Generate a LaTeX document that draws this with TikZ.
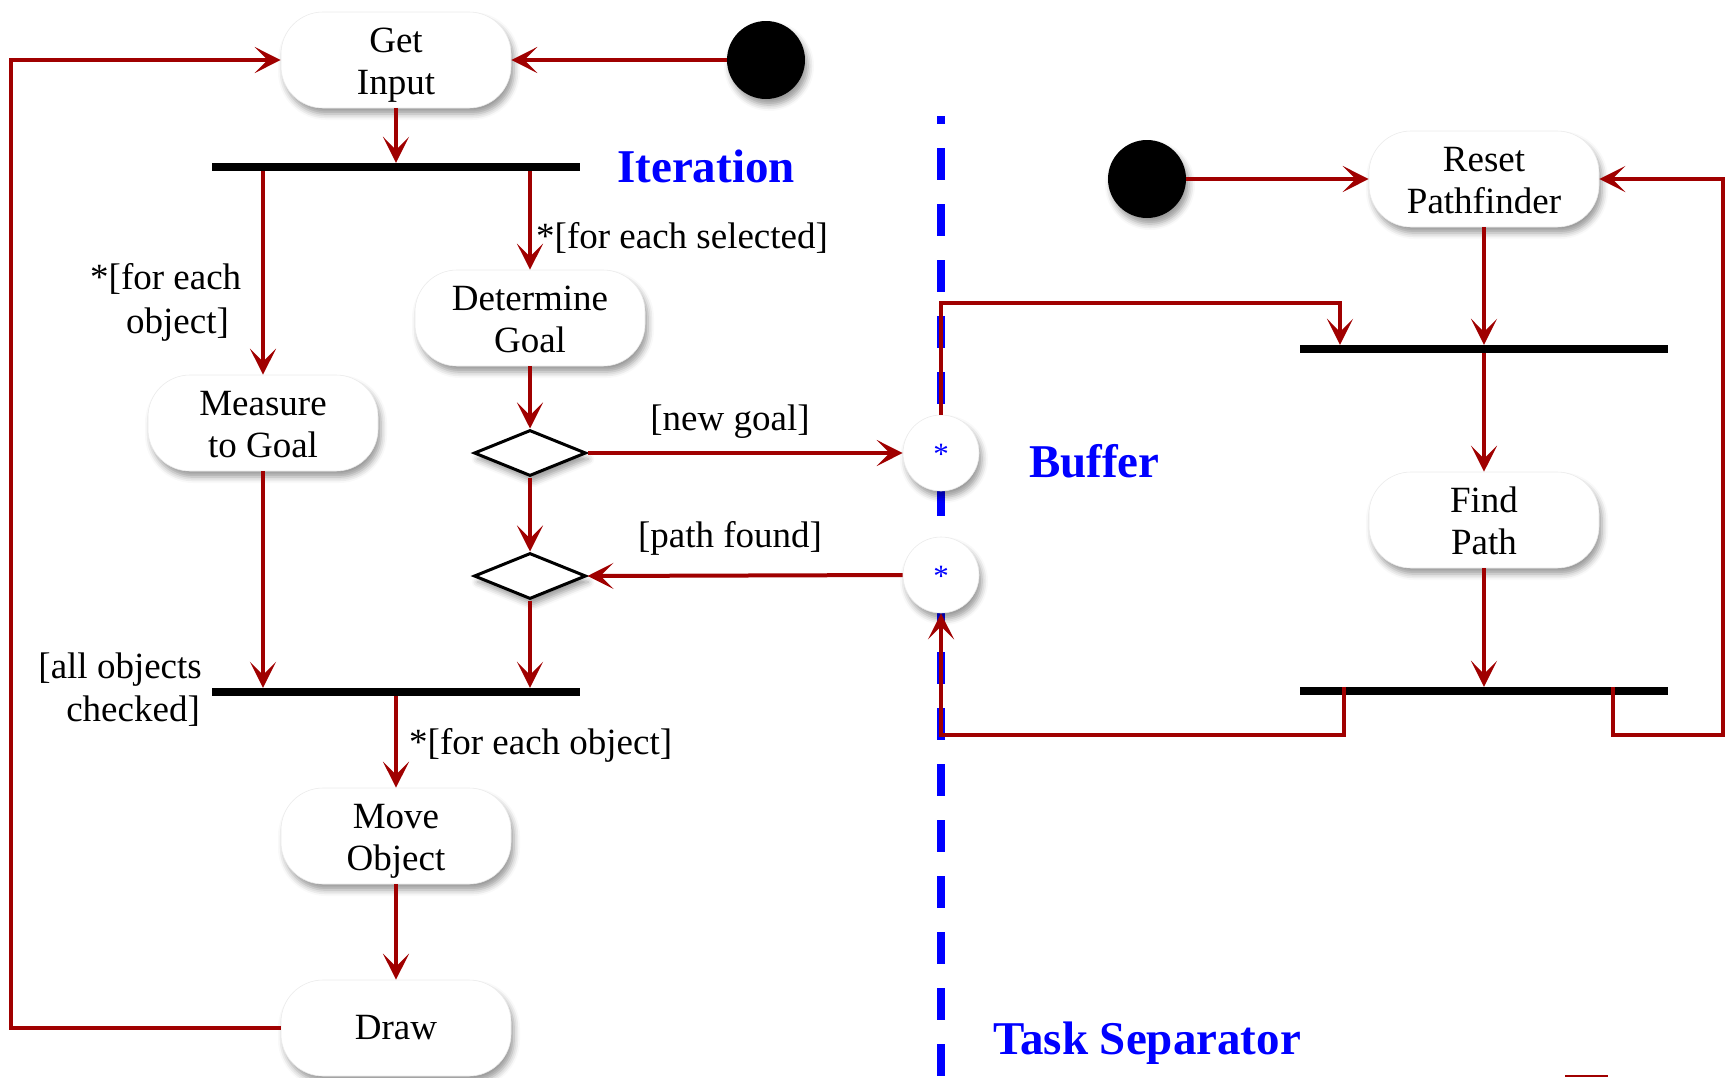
\documentclass[tikz,border=0pt]{standalone}
\usepackage{fontspec}
\setmainfont{Liberation Serif}
\usetikzlibrary{arrows.meta,shapes.geometric,shadows.blur,calc}
\definecolor{flowred}{RGB}{160,0,0}
\definecolor{noteblue}{RGB}{0,0,255}
\tikzset{
  softshadow/.style={blur shadow={shadow xshift=3pt, shadow yshift=-6pt,
      shadow blur radius=6pt, shadow opacity=40}},
  act/.style={rectangle, rounded corners=42pt, minimum width=230pt,
      minimum height=96pt, inner sep=0pt, fill=white, draw=black!8,
      line width=0.6pt, align=center, softshadow,
      font=\fontsize{37}{42}\selectfont},
  twoline/.style={text height=72pt, text depth=3pt},
  bar/.style={rectangle, fill=black, minimum width=368pt, minimum height=8pt,
      inner sep=0pt},
  startdot/.style={circle, fill=black, minimum size=78pt, inner sep=0pt,
      softshadow},
  decision/.style={diamond, draw=black, line width=3pt, fill=white,
      minimum width=112pt, minimum height=46pt, inner sep=0pt, softshadow},
  buffer/.style={circle, fill=white, draw=black!8, line width=0.6pt,
      minimum size=76pt, inner sep=0pt, softshadow},
  bufmark/.style={font=\fontsize{31}{34}\selectfont, text=noteblue, inner sep=0pt},
  guard/.style={font=\fontsize{37}{42}\selectfont, inner sep=0pt},
  heading/.style={font=\fontsize{47}{56}\selectfont\bfseries, text=noteblue,
      inner sep=0pt},
  wire/.style={draw=flowred, line width=4pt},
  flow/.style={wire, -{Stealth[length=26pt,width=26pt,inset=13pt]}},
}
\begin{document}
\begin{tikzpicture}[x=1pt,y=-1pt]
\useasboundingbox (0,0) rectangle (1730,1077);

% task separator
\coordinate (sepTop) at (941,116);
\coordinate (sepBot) at (941,1077);
\draw[noteblue, line width=8pt, dash pattern=on 32pt off 24pt, dash phase=24pt]
  (sepTop) -- (sepBot);

% left task: iteration
\node[startdot] (dotL) at (766,60) {};
\node[act, twoline] (getin) at (396,60) {Get\\Input};
\node[bar] (fork1) at (396,167) {};
\node[act, twoline] (measure) at (263,423) {Measure\\to Goal};
\node[act, twoline] (goal) at (530,318) {Determine\\Goal};
\node[decision] (dec1) at (530,453) {};
\node[decision] (dec2) at (530,576) {};
\node[bar] (join1) at (396,692) {};
\node[act, twoline] (move) at (396,836) {Move\\Object};
\node[act] (drawN) at (396,1028) {Draw};

% buffers
\node[buffer] (buf1) at (941,453) {};
\node[bufmark, anchor=base] (ast1) at (941,464) {*};
\node[buffer] (buf2) at (941,575) {};
\node[bufmark, anchor=base] (ast2) at (941,586) {*};

% right task: pathfinding
\node[startdot] (dotR) at (1147,179) {};
\node[act, twoline] (reset) at (1484,179) {Reset\\Pathfinder};
\node[bar] (fork2) at (1484,349) {};
\node[act, twoline] (find) at (1484,520) {Find\\Path};
\node[bar] (join2) at (1484,691) {};

% routing points
\coordinate (loopx) at (11,0);
\coordinate (hop) at (1340,303);
\coordinate (tapL) at (1344,735);
\coordinate (tapR) at (1613,735);
\coordinate (backx) at (1723,0);

% left connectors
\draw[flow] (dotL.west) -- (getin.east);
\draw[flow] (drawN.west) -- (drawN.west -| loopx) -- (getin.west -| loopx) -- (getin.west);
\draw[flow] (getin.south) -- (fork1.north);
\draw[flow] (fork1.south -| measure) -- (measure.north);
\draw[flow] (fork1.south -| goal) -- (goal.north);
\draw[flow] (goal.south) -- (dec1.north);
\draw[flow] (dec1.east) -- (buf1.west);
\draw[flow] (dec1.south) -- (dec2.north);
\draw[flow] (buf2.west) -- (dec2.east);
\draw[flow] (dec2.south) -- (join1.north -| dec2);
\draw[flow] (measure.south) -- (join1.north -| measure);
\draw[flow] (join1.south -| move) -- (move.north);
\draw[flow] (move.south) -- (drawN.north);

% right connectors
\draw[flow] (dotR.east) -- (reset.west);
\draw[flow] (buf1.north) -- (buf1.north |- hop) -- (hop) -- (hop |- fork2.north);
\draw[flow] (reset.south) -- (fork2.north);
\draw[flow] (fork2.south) -- (find.north);
\draw[flow] (find.south) -- (join2.north);
\draw[flow] (join2.north -| tapL) -- (tapL) -- (tapL -| buf2) -- (buf2.south);
\draw[flow] (join2.north -| tapR) -- (tapR) -- (tapR -| backx) -- (reset.east -| backx) -- (reset.east);

% guards
\node[guard, anchor=base west] (lblSel) at (536,248) {*[for each selected]};
\node[guard, anchor=base west] (lblEachA) at (90,289) {*[for each};
\node[guard, anchor=base west] (lblEachB) at (126,333) {object]};
\node[guard, anchor=base] (lblNew) at (730,430) {[new goal]};
\node[guard, anchor=base] (lblPath) at (730,547) {[path found]};
\node[guard, anchor=base east] (lblAllA) at (202,678) {[all objects};
\node[guard, anchor=base east] (lblAllB) at (200,721) {checked]};
\node[guard, anchor=base west] (lblObj) at (409,754) {*[for each object]};

% headings
\node[heading, anchor=base west] (tIter) at (617,182) {Iteration};
\node[heading, anchor=base west] (tBuf) at (1029,477) {Buffer};
\node[heading, anchor=base west] (tSep) at (993,1054) {Task Separator};

% edge fragment at the lower border
\coordinate (fragA) at (1565,1076);
\coordinate (fragB) at (1608,1076);
\draw[flowred, line width=2pt] (fragA) -- (fragB);
\end{tikzpicture}
\end{document}
